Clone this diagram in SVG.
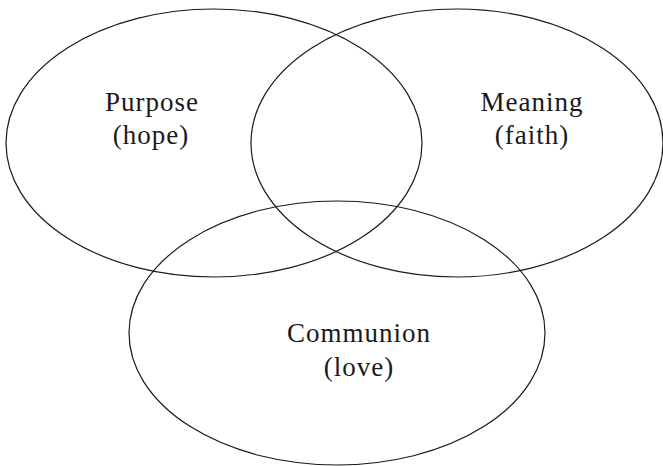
<svg xmlns="http://www.w3.org/2000/svg" width="663" height="466" viewBox="0 0 663 466">
  <style>
    .set { fill: none; stroke: #1a1a1a; stroke-width: 1.2; }
    .lbl { font-family: "Liberation Serif", "DejaVu Serif", serif; font-size: 27px; fill: #1a1a1a; text-anchor: middle; letter-spacing: 1px; }
  </style>
  <rect width="663" height="466" fill="#ffffff"/>
  <g id="purpose">
    <ellipse class="set" cx="214" cy="143" rx="208" ry="134"/>
    <text class="lbl" x="152" y="111">Purpose</text>
    <text class="lbl" x="151" y="144">(hope)</text>
  </g>
  <g id="meaning">
    <ellipse class="set" cx="457" cy="143" rx="206" ry="134"/>
    <text class="lbl" x="532" y="111">Meaning</text>
    <text class="lbl" x="532" y="144">(faith)</text>
  </g>
  <g id="communion">
    <ellipse class="set" cx="337" cy="333" rx="208" ry="132"/>
    <text class="lbl" x="359" y="342">Communion</text>
    <text class="lbl" x="359" y="376">(love)</text>
  </g>
  <g id="connectors"></g>
</svg>
